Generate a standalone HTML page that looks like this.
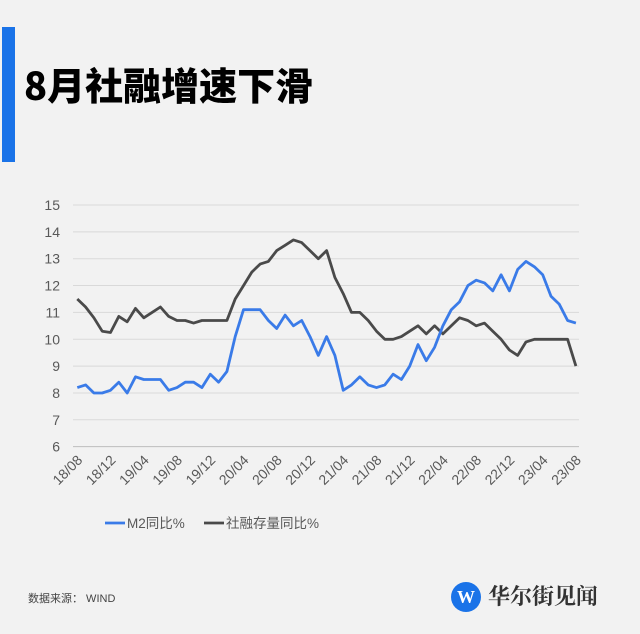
<!DOCTYPE html>
<html><head><meta charset="utf-8"><style>
html,body{margin:0;padding:0;background:#f2f2f2;}
body{width:640px;height:634px;position:relative;overflow:hidden;font-family:"Liberation Sans","Noto Sans CJK SC",sans-serif;}
</style></head><body>
<div style="position:absolute;left:2px;top:27px;width:13px;height:135px;background:#1a73e8"></div>
<div style="position:absolute;left:24px;top:59px;font-size:38px;font-weight:900;color:#000;font-family:'Noto Sans CJK SC',sans-serif;line-height:50px;letter-spacing:0px">8月社融增速下滑</div>
<svg id="c" width="640" height="634" style="position:absolute;left:0;top:0" xmlns="http://www.w3.org/2000/svg"></svg>
<div style="position:absolute;left:28px;top:590px;font-size:11px;color:#444">数据来源：&nbsp;WIND</div>
<div style="position:absolute;left:451px;top:582px;width:30px;height:30px;border-radius:50%;background:#1a73e8;color:#fff;font-weight:bold;font-size:18px;text-align:center;line-height:30px;font-family:'Liberation Serif',serif">W</div>
<div style="position:absolute;left:488px;top:580px;font-size:22px;font-weight:bold;color:#333;font-family:'Noto Serif CJK SC',serif;line-height:32px">华尔街见闻</div>
<script>
var m2=[8.2,8.3,8.0,8.0,8.1,8.4,8.0,8.6,8.5,8.5,8.5,8.1,8.2,8.4,8.4,8.2,8.7,8.4,8.8,10.1,11.1,11.1,11.1,10.7,10.4,10.9,10.5,10.7,10.1,9.4,10.1,9.4,8.1,8.3,8.6,8.3,8.2,8.3,8.7,8.5,9.0,9.8,9.2,9.7,10.5,11.1,11.4,12.0,12.2,12.1,11.8,12.4,11.8,12.6,12.9,12.7,12.4,11.6,11.3,10.7,10.6];
var ts=[11.5,11.2,10.8,10.3,10.25,10.85,10.65,11.15,10.8,11.0,11.2,10.85,10.7,10.7,10.6,10.7,10.7,10.7,10.7,11.5,12.0,12.5,12.8,12.9,13.3,13.5,13.7,13.6,13.3,13.0,13.3,12.3,11.7,11.0,11.0,10.7,10.3,10.0,10.0,10.1,10.3,10.5,10.2,10.5,10.2,10.5,10.8,10.7,10.5,10.6,10.3,10.0,9.6,9.4,9.9,10.0,10.0,10.0,10.0,10.0,9.0];
function X(i){return 77.3+i*8.31;} function Y(v){return 205+(15-v)*26.85;}
var s='';
for(var v=6;v<=15;v++){var y=Y(v);s+='<line x1="73" x2="579" y1="'+y+'" y2="'+y+'" stroke="'+(v==6?'#bdbdbd':'#d9d9d9')+'" stroke-width="1"/>';
s+='<text x="60" y="'+(y+5)+'" text-anchor="end" font-size="14" fill="#595959">'+v+'</text>';}
var labs=['18/08','18/12','19/04','19/08','19/12','20/04','20/08','20/12','21/04','21/08','21/12','22/04','22/08','22/12','23/04','23/08'];
for(var k=0;k<labs.length;k++){var x=X(k*4)+6,y=461;s+='<text x="'+x+'" y="'+y+'" text-anchor="end" font-size="14" fill="#595959" transform="rotate(-45 '+x+' '+y+')">'+labs[k]+'</text>';}
function pl(d,c){var p=d.map(function(v,i){return X(i).toFixed(1)+','+Y(v).toFixed(1)}).join(' ');return '<polyline points="'+p+'" fill="none" stroke="'+c+'" stroke-width="2.8" stroke-linejoin="round"/>';}
s+=pl(ts,'#4a4a4a')+pl(m2,'#3a7be8');
s+='<line x1="105" x2="125" y1="523" y2="523" stroke="#3a7be8" stroke-width="2.8"/><text x="127" y="528" font-size="13.5" fill="#595959">M2同比%</text>';
s+='<line x1="204" x2="224" y1="523" y2="523" stroke="#4a4a4a" stroke-width="2.8"/><text x="226" y="528" font-size="13.5" fill="#595959">社融存量同比%</text>';
document.getElementById('c').innerHTML=s;
</script>
</body></html>
